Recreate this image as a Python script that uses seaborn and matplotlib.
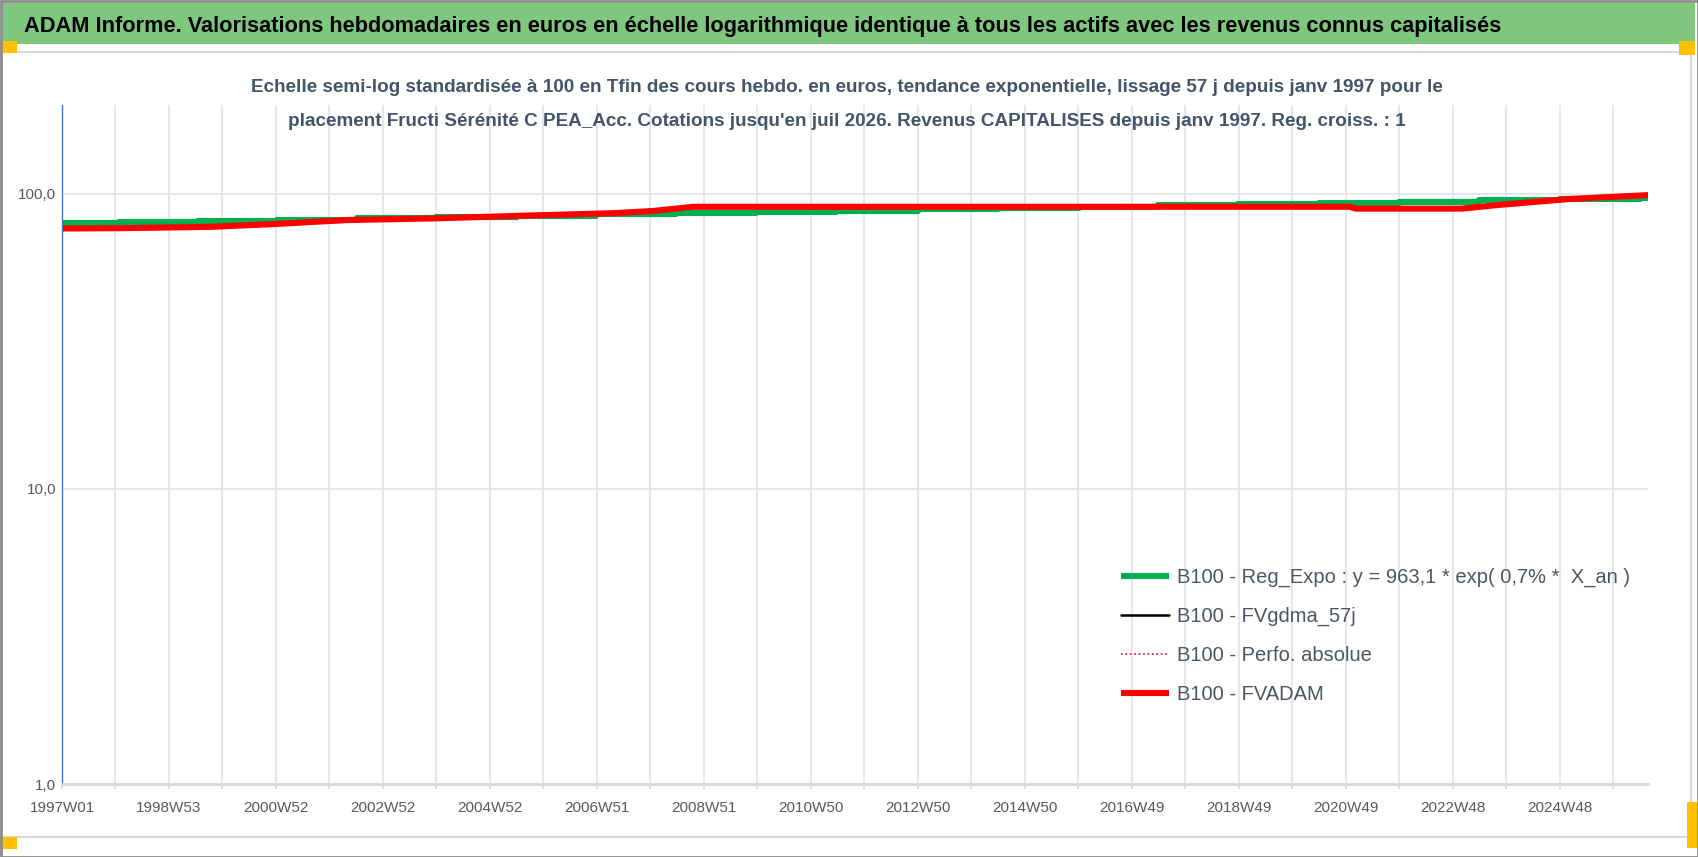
import numpy as np
import pandas as pd
import matplotlib
matplotlib.use("Agg")
import matplotlib.pyplot as plt
import seaborn as sns
from matplotlib.patches import Rectangle
from matplotlib.ticker import FixedLocator, FuncFormatter, NullLocator

# ---------------- data ----------------
title = ("ADAM Informe. Valorisations hebdomadaires en euros en échelle logarithmique "
         "identique à tous les actifs avec les revenus connus capitalisés")
subtitle1 = ("Echelle semi-log standardisée à 100 en Tfin des cours hebdo. en euros, tendance "
             "exponentielle, lissage 57 j depuis janv 1997 pour le")
subtitle2 = ("placement Fructi Sérénité C PEA_Acc. Cotations jusqu'en juil 2026. Revenus "
             "CAPITALISES depuis janv 1997. Reg. croiss. : 1")

tick_labels = ["1997W01", "1998W53", "2000W52", "2002W52", "2004W52", "2006W51", "2008W51",
               "2010W50", "2012W50", "2014W50", "2016W49", "2018W49", "2020W49", "2022W48",
               "2024W48"]
n_weeks = 1543          # weekly categories 1997W01 .. 2026W30
weeks_per_tick = 52

legend_labels = ["B100 - Reg_Expo : y = 963,1 * exp( 0,7% *  X_an )",
                 "B100 - FVgdma_57j",
                 "B100 - Perfo. absolue",
                 "B100 - FVADAM"]

# Reg_Expo (green, staircase)
green_weeks = [0, 55, 132, 209, 287, 364, 442, 519, 597, 675, 753, 832, 910, 989, 1066,
               1143, 1222, 1300, 1378, 1456, 1534, 1542]
green_vals = [79.4, 80.2, 81.0, 81.8, 82.6, 83.5, 84.3, 85.2, 86.0, 86.9, 87.8, 88.6, 89.5,
              90.4, 91.3, 92.3, 93.2, 94.1, 95.1, 96.0, 97.0, 97.0]

# FVgdma_57j (black, hidden under red)
gdma_weeks = [0, 58, 145, 207, 277, 364, 443, 537, 575, 614, 1252, 1258, 1361, 1394, 1464, 1542]
gdma_vals = [76.3, 76.5, 77.2, 78.9, 81.4, 82.6, 84.2, 86.0, 87.4, 90.3, 90.4, 89.1, 89.1,
             91.4, 95.9, 98.9]

# Perfo. absolue (red dotted, hidden under red)
perf_weeks = [0, 58, 145, 207, 277, 364, 443, 537, 575, 614, 1252, 1258, 1361, 1394, 1464, 1542]
perf_vals = [76.3, 76.5, 77.3, 79.0, 81.5, 82.6, 84.2, 86.0, 87.5, 90.4, 90.4, 89.1, 89.1,
             91.5, 96.0, 99.0]

# FVADAM (red)
red_weeks = [0, 58, 145, 207, 277, 364, 443, 537, 575, 614, 1252, 1258, 1361, 1394, 1464, 1542]
red_vals = [76.3, 76.5, 77.3, 79.0, 81.5, 82.6, 84.2, 86.0, 87.5, 90.4, 90.4, 89.1, 89.1,
            91.5, 96.0, 99.0]

y_ticks = [1, 10, 100]

# ---------------- style ----------------
sns.set_style("white")
FONT = ["Liberation Sans Narrow", "Liberation Sans", "DejaVu Sans"]
plt.rcParams["font.family"] = FONT

W, H = 1698, 857
fig = plt.figure(figsize=(W / 100, H / 100), dpi=100)
fig.patch.set_facecolor("white")


def px_rect(x0, y0, x1, y1, **kw):
    r = Rectangle((x0 / W, 1 - y1 / H), (x1 - x0) / W, (y1 - y0) / H,
                  transform=fig.transFigure, **kw)
    fig.patches.append(r)


# decorations
px_rect(2, 3, 1695, 44, facecolor="#7fc77f", edgecolor="none", zorder=0)
px_rect(1, 52, 1691, 837, facecolor="none", edgecolor="#d9d9d9", lw=1.5, zorder=0)
px_rect(0, 41, 17, 53, facecolor="#ffc000", edgecolor="none", zorder=1)
px_rect(1679, 41, 1695, 55, facecolor="#ffc000", edgecolor="none", zorder=1)
px_rect(0, 837, 17, 849, facecolor="#ffc000", edgecolor="none", zorder=1)
px_rect(1687, 802, 1697, 848, facecolor="#ffc000", edgecolor="none", zorder=1)
px_rect(0.5, 0.5, W - 0.5, H - 0.5, facecolor="none", edgecolor="#8c8c8c", lw=2, zorder=2)

fig.text(24 / W, 1 - 32 / H, title, ha="left", va="baseline", fontsize=15.7,
         fontweight="bold", color="black")
fig.text(847 / W, 1 - 92 / H, subtitle1, ha="center", va="baseline", fontsize=13.6,
         fontweight="bold", color="#44546a")
fig.text(847 / W, 1 - 126 / H, subtitle2, ha="center", va="baseline", fontsize=13.6,
         fontweight="bold", color="#44546a")

# axes
ax = fig.add_axes([62 / W, 1 - 784 / H, (1648 - 62) / W, (784 - 105) / H])
ax.patch.set_alpha(0)

sns.lineplot(x=green_weeks, y=green_vals, ax=ax, color="#00b050", lw=4.4,
             drawstyle="steps-post", label=legend_labels[0], solid_capstyle="butt",
             estimator=None, sort=False)
sns.lineplot(x=gdma_weeks, y=gdma_vals, ax=ax, color="black", lw=1.8,
             label=legend_labels[1], estimator=None, sort=False)
sns.lineplot(x=perf_weeks, y=perf_vals, ax=ax, color="#ff0000", lw=1.2, linestyle=":",
             label=legend_labels[2], estimator=None, sort=False)
sns.lineplot(x=red_weeks, y=red_vals, ax=ax, color="#ff0000", lw=4.4,
             label=legend_labels[3], solid_capstyle="butt", estimator=None, sort=False)

ax.set_yscale("log")
ax.set_ylim(1, 200)
ax.set_xlim(0, n_weeks - 1)
ax.yaxis.set_major_locator(FixedLocator(y_ticks))
ax.yaxis.set_minor_locator(NullLocator())
ax.yaxis.set_major_formatter(FuncFormatter(lambda v, p: f"{v:.1f}".replace(".", ",")))

n_ticks = (n_weeks - 1) // weeks_per_tick + 1
tick_pos = [i * weeks_per_tick for i in range(n_ticks)]
labels_full = [tick_labels[i // 2] if (i % 2 == 0 and i // 2 < len(tick_labels)) else ""
               for i in range(n_ticks)]
ax.set_xticks(tick_pos)
ax.set_xticklabels(labels_full)
ax.set_xlabel("")
ax.set_ylabel("")

ax.grid(True, which="major", color="#dfe3ea", lw=1.2)
ax.set_axisbelow(True)
for s in ["top", "right"]:
    ax.spines[s].set_visible(False)
ax.spines["left"].set_color("#4472c4")
ax.spines["left"].set_linewidth(1.0)
ax.spines["bottom"].set_color("#d9d9d9")
ax.spines["bottom"].set_linewidth(2.0)
ax.tick_params(axis="x", length=3.6, width=1.2, color="#d9d9d9", labelsize=11,
               labelcolor="#595959", pad=9, bottom=True)
ax.tick_params(axis="y", length=0, pad=4, labelsize=11, labelcolor="#595959", left=True)

handles, labs = ax.get_legend_handles_labels()
ax.legend(handles, labs, loc="upper left", bbox_to_anchor=(1121 / W, 1 - 568 / H),
          bbox_transform=fig.transFigure, frameon=False, fontsize=14.5,
          handlelength=2.4, handletextpad=0.38, labelspacing=0.98, borderpad=0,
          borderaxespad=0, labelcolor="#4d5562")

fig.savefig("out.png", dpi=100)
